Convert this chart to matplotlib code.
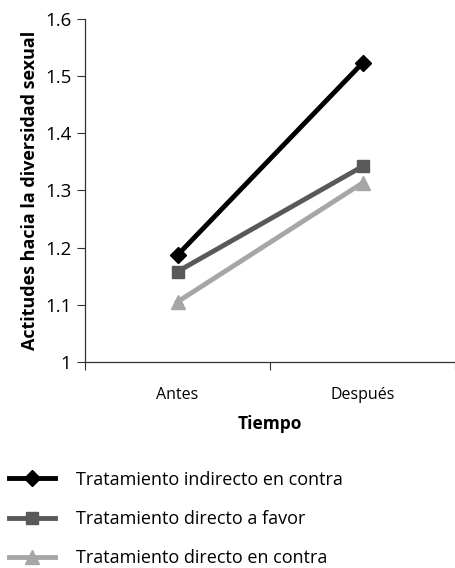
#!/usr/bin/env python3
"""Actitudes hacia la diversidad sexual, antes y después del tratamiento."""

import matplotlib
matplotlib.use("Agg")
from matplotlib import pyplot as plt

plt.rcParams['font.family'] = ['Open Sans', 'DejaVu Sans']
plt.rcParams['font.size'] = 11

# Datos
momentos = ['Antes', 'Después']
indirecto_contra = [1.187, 1.523]
directo_favor = [1.158, 1.342]
directo_contra = [1.105, 1.313]
yticks = [1, 1.1, 1.2, 1.3, 1.4, 1.5, 1.6]

fig = plt.figure(figsize=(4.55, 5.68), dpi=100)
ax = fig.add_axes([0.187, 0.363, 0.813, 0.6035])

xs = [0.5, 1.5]
ax.plot(xs, directo_contra, color='#a6a6a6', lw=3.5, marker='^', ms=10,
        label='Tratamiento directo en contra', zorder=2)
ax.plot(xs, directo_favor, color='#595959', lw=3.5, marker='s', ms=8.5,
        label='Tratamiento directo a favor', zorder=3)
ax.plot(xs, indirecto_contra, color='#000000', lw=3.5, marker='D', ms=8.5,
        label='Tratamiento indirecto en contra', zorder=4)

ax.set_xlim(0, 2)
ax.set_ylim(1, 1.6)
ax.set_yticks(yticks)
ax.set_yticklabels(['1', '1.1', '1.2', '1.3', '1.4', '1.5', '1.6'], fontsize=13.5)
ax.set_xticks([0, 1, 2])
ax.set_xticklabels([])
ax.set_xticks(xs, minor=True)
ax.set_xticklabels(momentos, minor=True, fontsize=11.5)
ax.tick_params(axis='x', which='minor', length=0, pad=18)
ax.tick_params(axis='x', which='major', length=6, direction='out', color='#333333')
ax.tick_params(axis='y', length=6, direction='out', color='#333333', pad=4)

for side in ['top', 'right']:
    ax.spines[side].set_visible(False)
for side in ['left', 'bottom']:
    ax.spines[side].set_color('#333333')
    ax.spines[side].set_linewidth(0.9)

ax.set_xlabel('Tiempo', fontsize=12.5, fontweight='bold', labelpad=9)
ax.set_ylabel('Actitudes hacia la diversidad sexual', fontsize=13,
              fontweight='bold', labelpad=4)

handles, labels = ax.get_legend_handles_labels()
fig.legend(handles[::-1], labels[::-1], loc='upper left',
           bbox_to_anchor=(0.005, 0.184), frameon=False, fontsize=13,
           handlelength=2.5, labelspacing=1.18, handletextpad=1.2,
           borderaxespad=0)

fig.savefig('out.png', dpi=100)
